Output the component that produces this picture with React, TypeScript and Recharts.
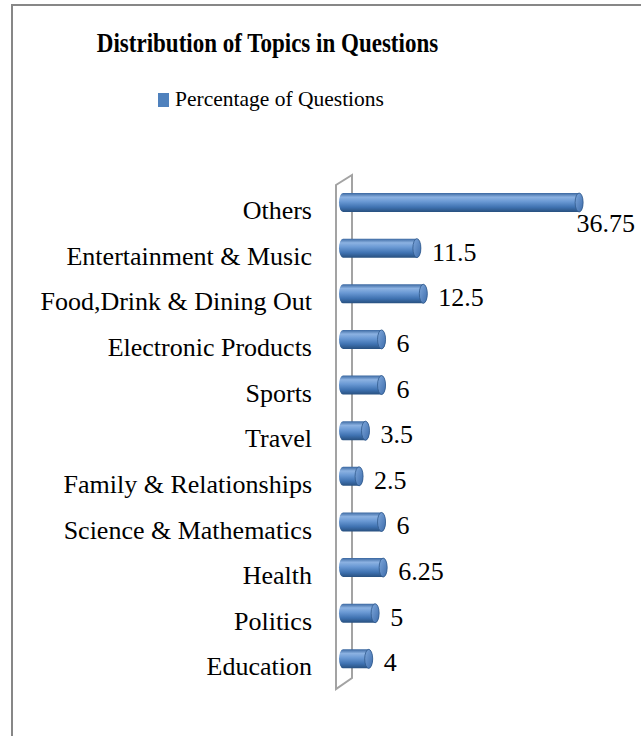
import React from "react"
import { BarChart, Bar, XAxis, YAxis, LabelList, Customized } from "recharts"

const TOPICS = [
  "Others",
  "Entertainment & Music",
  "Food,Drink & Dining Out",
  "Electronic Products",
  "Sports",
  "Travel",
  "Family & Relationships",
  "Science & Mathematics",
  "Health",
  "Politics",
  "Education",
]
const PERCENTAGES = [36.75, 11.5, 12.5, 6, 6, 3.5, 2.5, 6, 6.25, 5, 4]
const VALUE_DOMAIN = [0, 40]
const TITLE = "Distribution of Topics in Questions"
const SERIES_NAME = "Percentage of Questions"

const W = 641
const H = 736
const M = { top: 187, right: 41, bottom: 47, left: 43 }
const AXIS_W = 300
const FONT = "'Liberation Serif', 'Times New Roman', serif"
const BLUE = "#4f81bd"
const LABEL_SIZE = 26

const data = TOPICS.map((topic, i) => ({ topic, pct: PERCENTAGES[i] }))

// 3D "wall" behind the bars (Excel style)
function Wall() {
  const left = M.left + AXIS_W
  const top = M.top
  const bottom = H - M.bottom
  const fx = left - 7
  const bx = left + 9
  return (
    <polygon
      points={`${fx},${top - 2} ${fx},${bottom} ${bx},${bottom - 11} ${bx},${top - 12}`}
      fill="none"
      stroke="#a3a3a3"
      strokeWidth={2}
    />
  )
}

function Cylinder(props: any) {
  const { x, y, width, height } = props
  const rx = 4
  const h = 19
  const cy = y + height / 2 - 7
  const t = cy - h / 2
  const b = cy + h / 2
  const xe = x + width
  return (
    <g>
      <path
        d={`M${x},${t} L${xe},${t} A${rx},${h / 2} 0 0 1 ${xe},${b} L${x},${b} A${rx},${h / 2} 0 0 1 ${x},${t} Z`}
        fill="url(#cylBody)"
      />
      <ellipse cx={xe} cy={cy} rx={rx} ry={h / 2} fill="url(#cylCap)" stroke="#30598c" strokeWidth={0.8} />
    </g>
  )
}

function ValueLabel(props: any) {
  const { x, y, width, height, value } = props
  const text = String(value)
  const est = [...text].reduce((s, c) => s + (c === "." ? 0.25 : 0.5) * LABEL_SIZE, 0)
  const center = y + height / 2
  let tx = x + width + 4 + 11
  let ty = center + 5.5
  let anchor: "start" | "end" = "start"
  if (tx + est > 636) {
    tx = 635
    anchor = "end"
    ty = center + 22
  }
  return (
    <text x={tx} y={ty} textAnchor={anchor} fontSize={LABEL_SIZE} fill="#000" fontFamily={FONT}>
      {text}
    </text>
  )
}

export default function App() {
  return (
    <div
      style={{
        position: "absolute",
        left: 0,
        top: 0,
        width: W,
        height: H,
        background: "#fff",
        overflow: "hidden",
        fontFamily: FONT,
      }}
    >
      {/* chart frame */}
      <div
        style={{
          position: "absolute",
          left: 11,
          top: 4,
          width: 800,
          height: 900,
          borderLeft: "2px solid #878787",
          borderTop: "2px solid #878787",
        }}
      />
      <div
        style={{
          position: "absolute",
          left: 0,
          top: 33,
          width: 535,
          textAlign: "center",
          fontSize: 23,
          lineHeight: "23px",
          fontWeight: "bold",
          color: "#000",
          transform: "scaleY(1.22)",
          transformOrigin: "50% 19px",
          whiteSpace: "nowrap",
        }}
      >
        {TITLE}
      </div>
      <span
        style={{ position: "absolute", left: 158, top: 93, width: 11, height: 14, background: BLUE }}
      />
      <div
        style={{
          position: "absolute",
          left: 175,
          top: 89,
          fontSize: 21.5,
          lineHeight: "21.5px",
          color: "#000",
          whiteSpace: "nowrap",
        }}
      >
        {SERIES_NAME}
      </div>
      <div style={{ position: "absolute", left: 0, top: 0 }}>
        <BarChart width={W} height={H} data={data} layout="vertical" margin={M} barSize={19}>
          <defs>
            <linearGradient id="cylBody" x1="0" y1="0" x2="0" y2="1">
              <stop offset="0%" stopColor="#3a67a0" />
              <stop offset="22%" stopColor="#8cb2e2" />
              <stop offset="45%" stopColor="#6a99d4" />
              <stop offset="75%" stopColor="#3f72b1" />
              <stop offset="100%" stopColor="#28507f" />
            </linearGradient>
            <linearGradient id="cylCap" x1="0" y1="0" x2="1" y2="1">
              <stop offset="0%" stopColor="#7fa8dc" />
              <stop offset="100%" stopColor="#3d6cab" />
            </linearGradient>
          </defs>
          <Customized component={<Wall />} />
          <XAxis type="number" domain={VALUE_DOMAIN} hide />
          <YAxis
            type="category"
            dataKey="topic"
            width={AXIS_W}
            interval={0}
            tickSize={0}
            tickMargin={31}
            axisLine={false}
            tickLine={false}
            tick={{ fontSize: LABEL_SIZE, fill: "#000", fontFamily: FONT }}
          />
          <Bar dataKey="pct" name={SERIES_NAME} fill={BLUE} shape={<Cylinder />} isAnimationActive={false}>
            <LabelList dataKey="pct" content={<ValueLabel />} />
          </Bar>
        </BarChart>
      </div>
    </div>
  )
}
